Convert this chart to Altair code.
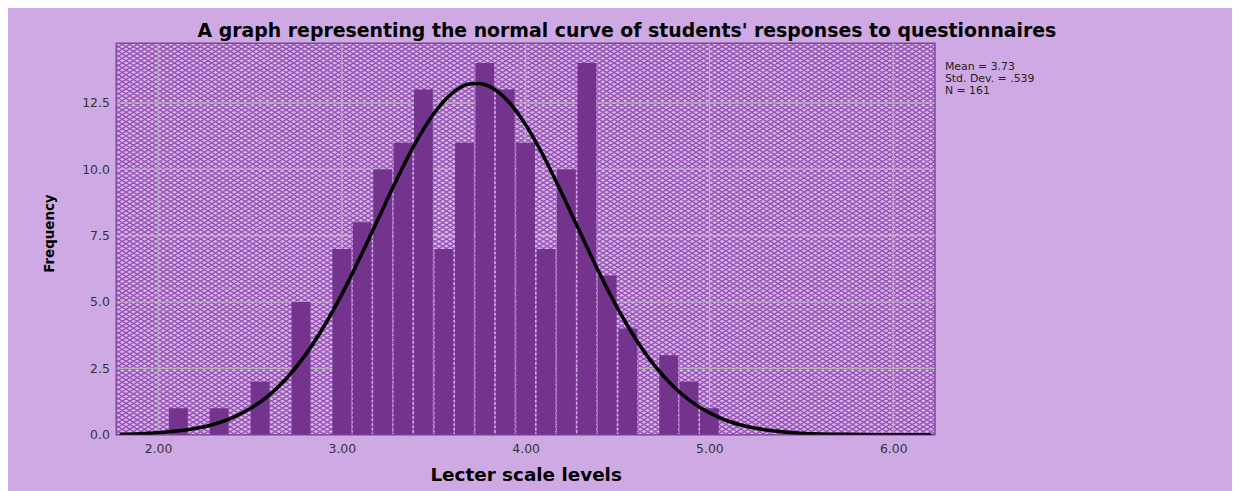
import altair as alt
import pandas as pd

# ---------------- data ----------------
bin_centers = [2.111, 2.222, 2.333, 2.444, 2.556, 2.667, 2.778, 2.889,
               3.000, 3.111, 3.222, 3.333, 3.444, 3.556, 3.667, 3.778,
               3.889, 4.000, 4.111, 4.222, 4.333, 4.444, 4.556, 4.667,
               4.778, 4.889, 5.000]
counts = [1, 0, 1, 0, 2, 0, 5, 0,
          7, 8, 10, 11, 13, 7, 11, 14,
          13, 11, 7, 10, 14, 6, 4, 0,
          3, 2, 1]

curve_x = [1.8, 1.9, 2.0, 2.1, 2.2, 2.3, 2.4, 2.5, 2.6, 2.7, 2.8, 2.9,
           3.0, 3.1, 3.2, 3.3, 3.4, 3.5, 3.6, 3.7, 3.75, 3.8, 3.9,
           4.0, 4.1, 4.2, 4.3, 4.4, 4.5, 4.6, 4.7, 4.8, 4.9,
           5.0, 5.1, 5.2, 5.3, 5.4, 5.5, 5.6, 5.7, 5.8, 5.9, 6.0, 6.1, 6.2]
curve_y = [0.02, 0.04, 0.08, 0.14, 0.24, 0.39, 0.63, 0.98, 1.47, 2.13, 2.99, 4.05,
           5.29, 6.69, 8.16, 9.63, 10.98, 12.09, 12.86, 13.22, 13.23, 13.13, 12.60,
           11.68, 10.46, 9.05, 7.57, 6.11, 4.77, 3.60, 2.62, 1.85, 1.26,
           0.83, 0.52, 0.32, 0.19, 0.11, 0.06, 0.03, 0.02, 0.01, 0.00, 0.00, 0.00, 0.00]

x_ticks = [2.0, 3.0, 4.0, 5.0, 6.0]
y_ticks = [0.0, 2.5, 5.0, 7.5, 10.0, 12.5]
stats_lines = ["Mean = 3.73", "Std. Dev. = .539", "N = 161"]
title_text = "A graph representing the normal curve of students' responses to questionnaires"
x_title = "Lecter scale levels"
y_title = "Frequency"

# ---------------- layout / style constants ----------------
W, H = 824, 394
XMIN, XMAX = 1.773, 6.227
YMAX = 14.74
HALF_BAR = 0.051
FONT = "DejaVu Sans"
BAR_COLOR = "#74348e"
HATCH_COLOR = "#9150ae"
PLOT_FILL = "#d9b1ec"
PANEL = "#cfa9e3"
GRID = "#b7b0b9"

xscale = alt.Scale(domain=[XMIN, XMAX], nice=False, zero=False)
yscale = alt.Scale(domain=[0, YMAX], nice=False, zero=True)

xaxis = alt.Axis(values=x_ticks, format=".2f", grid=False, ticks=False, tickSize=0,
                 domain=False, labelPadding=8, labelFont=FONT, labelFontSize=12.5,
                 labelColor="#333333", title=x_title, titleFont=FONT, titleFontSize=18.5,
                 titleFontWeight="bold", titleColor="#000000", titleY=46,
                 titleBaseline="alphabetic")
yaxis = alt.Axis(values=y_ticks, format=".1f", grid=False, ticks=False, tickSize=0,
                 domain=False, labelPadding=7, labelFont=FONT, labelFontSize=12.5,
                 labelColor="#333333", title=y_title, titleFont=FONT, titleFontSize=13.5,
                 titleFontWeight="bold", titleColor="#000000", titleX=-60, titleY=191,
                 titleAngle=-90, titleBaseline="bottom", titleAlign="center")

# ---------------- crosshatch texture of the plot area ----------------
xu = (XMAX - XMIN) / W
SLOPE = 0.63
run = H / SLOPE * xu
step = 7.5 * xu
n_lines = int((XMAX - XMIN + run) / step) + 3

def hatch(up):
    ya, yb = (0, YMAX) if up else (YMAX, 0)
    return alt.Chart(alt.sequence(0, n_lines, as_="i")).transform_calculate(
        xa=f"{XMIN - run} + datum.i * {step}",
        xb=f"{XMIN - run} + datum.i * {step} + {run}",
        ya=f"{ya}",
        yb=f"{yb}",
    ).mark_rule(color=HATCH_COLOR, strokeWidth=1.25, clip=True).encode(
        x=alt.X("xa:Q", scale=xscale, axis=xaxis),
        x2="xb:Q",
        y=alt.Y("ya:Q", scale=yscale, axis=yaxis),
        y2="yb:Q",
    )

# ---------------- grid lines ----------------
vgrid = alt.Chart(pd.DataFrame({"gx": x_ticks})).mark_rule(
    color=GRID, strokeWidth=1.2, clip=True).encode(
    x=alt.X("gx:Q", scale=xscale, axis=xaxis))
hgrid = alt.Chart(pd.DataFrame({"gy": y_ticks[1:]})).mark_rule(
    color=GRID, strokeWidth=1.2, clip=True).encode(
    y=alt.Y("gy:Q", scale=yscale, axis=yaxis))

# ---------------- histogram bars ----------------
bars_df = pd.DataFrame({"center": bin_centers, "count": counts})
bars = alt.Chart(bars_df).transform_filter("datum.count > 0").transform_calculate(
    left=f"datum.center - {HALF_BAR}",
    right=f"datum.center + {HALF_BAR}",
).mark_rect(color=BAR_COLOR, clip=True).encode(
    x=alt.X("left:Q", scale=xscale, axis=xaxis),
    x2="right:Q",
    y=alt.Y("count:Q", scale=yscale, axis=yaxis),
    y2=alt.datum(0),
)

# ---------------- normal curve ----------------
curve_df = pd.DataFrame({"x": curve_x, "y": curve_y})
curve = alt.Chart(curve_df).mark_line(
    color="#000000", strokeWidth=3.6, interpolate="monotone", clip=True,
    strokeCap="round").encode(
    x=alt.X("x:Q", scale=xscale, axis=xaxis),
    y=alt.Y("y:Q", scale=yscale, axis=yaxis),
)

# ---------------- texts ----------------
one = pd.DataFrame({"a": [0]})
title = alt.Chart(one).mark_text(
    text=title_text, font=FONT, fontSize=19, fontWeight="bold", color="#000000",
    align="center", baseline="alphabetic").encode(
    x=alt.value(514), y=alt.value(-6))
stats = alt.Chart(one).mark_text(
    text=stats_lines, font=FONT, fontSize=11, color="#222222", align="left",
    baseline="alphabetic", lineHeight=11.8).encode(
    x=alt.value(834), y=alt.value(27))

chart = alt.layer(hatch(True), hatch(False), vgrid, hgrid, bars, curve, title, stats).properties(
    width=W, height=H,
    padding={"left": 109, "top": 34, "right": 299, "bottom": 60},
    autosize=alt.AutoSizeParams(type="none"),
    background=PANEL,
).configure_view(
    fill=PLOT_FILL, stroke="#7e3f9c", strokeWidth=1.5
)

chart.save("out.html", embed_options={"renderer": "svg", "actions": False})
